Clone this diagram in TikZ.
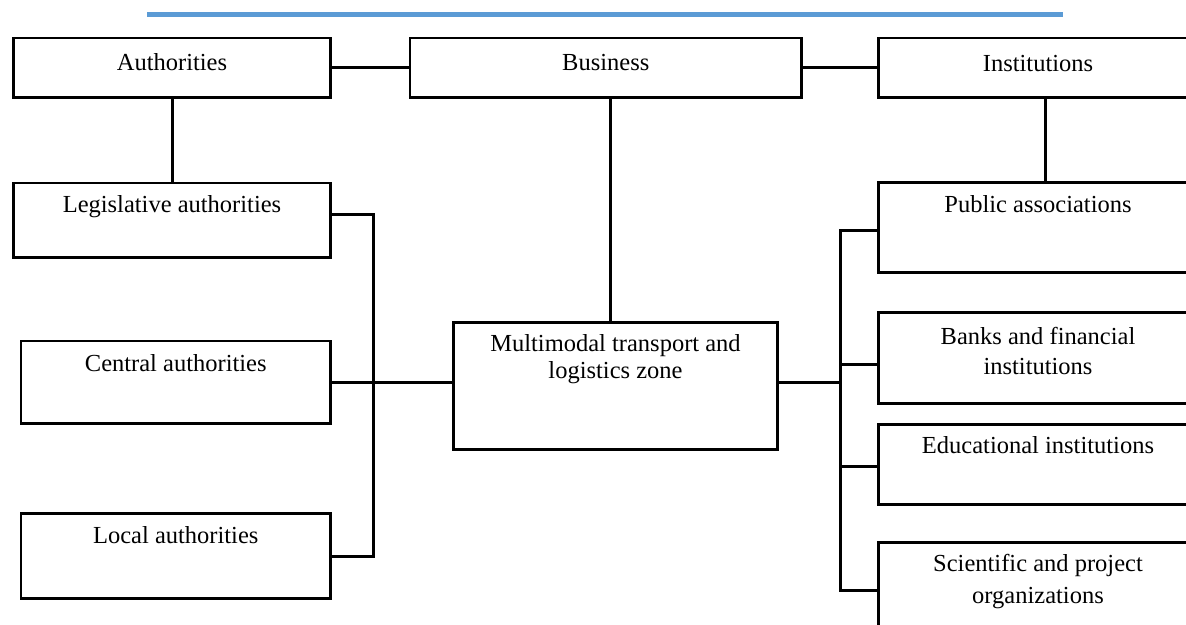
\documentclass[tikz,border=0pt]{standalone}
\usepackage{fontspec}
\setmainfont{Liberation Serif}
\usetikzlibrary{calc}
\definecolor{topblue}{RGB}{91,155,213}
\begin{document}
\begin{tikzpicture}[x=1pt,y=-1pt,
  box/.style={draw=black, line width=2.7pt, rectangle, inner sep=0pt, outer sep=0pt},
  txt/.style={anchor=base, inner sep=0pt, outer sep=0pt, font=\fontsize{24.5}{29}\selectfont},
  link/.style={draw=black, line width=3pt},
  rule/.style={draw=topblue, line width=5pt}]
\useasboundingbox (0,0) rectangle (1186,624);
\fill[white] (0,0) rectangle (1186,624);
\clip (0,0) rectangle (1186,624);

% top rule
\coordinate (ruleL) at (147,14.5);
\coordinate (ruleR) at (1063,14.5);
\draw[rule] (ruleL) -- (ruleR);

% boxes
\node[box, minimum width=317pt,   minimum height=59.5pt] (auth)    at (172,67.75) {};
\node[box, minimum width=391.5pt, minimum height=59.5pt] (bus)     at (605.75,67.75) {};
\node[box, minimum width=319pt,   minimum height=59.5pt] (inst)    at (1038,67.75) {};
\node[box, minimum width=317pt,   minimum height=74.5pt] (legis)   at (172,220.25) {};
\node[box, minimum width=309.5pt, minimum height=82.5pt] (central) at (175.75,382.25) {};
\node[box, minimum width=309.5pt, minimum height=85pt]   (local)   at (175.75,556) {};
\node[box, minimum width=324pt,   minimum height=127pt]  (mmz)     at (615.5,386) {};
\node[box, minimum width=319pt,   minimum height=90pt]   (public)  at (1038,227.5) {};
\node[box, minimum width=319pt,   minimum height=91pt]   (banks)   at (1038,358) {};
\node[box, minimum width=319pt,   minimum height=80pt]   (educ)    at (1038,464.5) {};
\node[box, minimum width=319pt,   minimum height=117.5pt](sci)     at (1038,601.25) {};

% texts
\node[txt] (t-auth)    at ([yshift=-32pt]auth.north) {Authorities};
\node[txt] (t-bus)     at ([yshift=-32.5pt]bus.north) {Business};
\node[txt] (t-inst)    at ([yshift=-33pt]inst.north) {Institutions};
\node[txt] (t-legis)   at ([yshift=-29.7pt]legis.north) {Legislative authorities};
\node[txt] (t-central) at ([yshift=-30.7pt]central.north) {Central authorities};
\node[txt] (t-local)   at ([yshift=-29.8pt]local.north) {Local authorities};
\node[txt] (t-mmz1)    at ([yshift=-29.2pt]mmz.north) {Multimodal transport and};
\node[txt] (t-mmz2)    at ([yshift=-55.8pt]mmz.north) {logistics zone};
\node[txt] (t-public)  at ([yshift=-29.8pt]public.north) {Public associations};
\node[txt] (t-banks1)  at ([yshift=-31.5pt]banks.north) {Banks and financial};
\node[txt] (t-banks2)  at ([yshift=-61.5pt]banks.north) {institutions};
\node[txt] (t-educ)    at ([yshift=-28.5pt]educ.north) {Educational institutions};
\node[txt] (t-sci1)    at ([yshift=-29.2pt]sci.north) {Scientific and project};
\node[txt] (t-sci2)    at ([yshift=-60.5pt]sci.north) {organizations};

% connector helpers
\coordinate (bstem) at (610,0);
\coordinate (istem) at (1045,0);
\coordinate (lbus) at (373,382);
\coordinate (rbus) at (840,382);

% connectors
\draw[link] (auth) -- (bus);
\draw[link] (bus) -- (inst);
\draw[link] (auth.south) -- (legis.north);
\draw[link] (inst.south -| istem) -- (public.north -| istem);
\draw[link] (bus.south -| bstem) -- (mmz.north -| bstem);
\draw[link] ([yshift=6pt]legis.east) -| (lbus) |- (local.east);
\draw[link] (central.east) -- (central.east -| mmz.west);
\draw[link] (mmz.east |- rbus) -- (rbus);
\draw[link] ([yshift=-2.5pt]public.west) -| (rbus) |- ([yshift=-48pt]sci.north west);
\draw[link] ([yshift=-6pt]banks.west) -- ([yshift=-6pt]banks.west -| rbus);
\draw[link] ([yshift=-1.5pt]educ.west) -- ([yshift=-1.5pt]educ.west -| rbus);
\end{tikzpicture}
\end{document}
